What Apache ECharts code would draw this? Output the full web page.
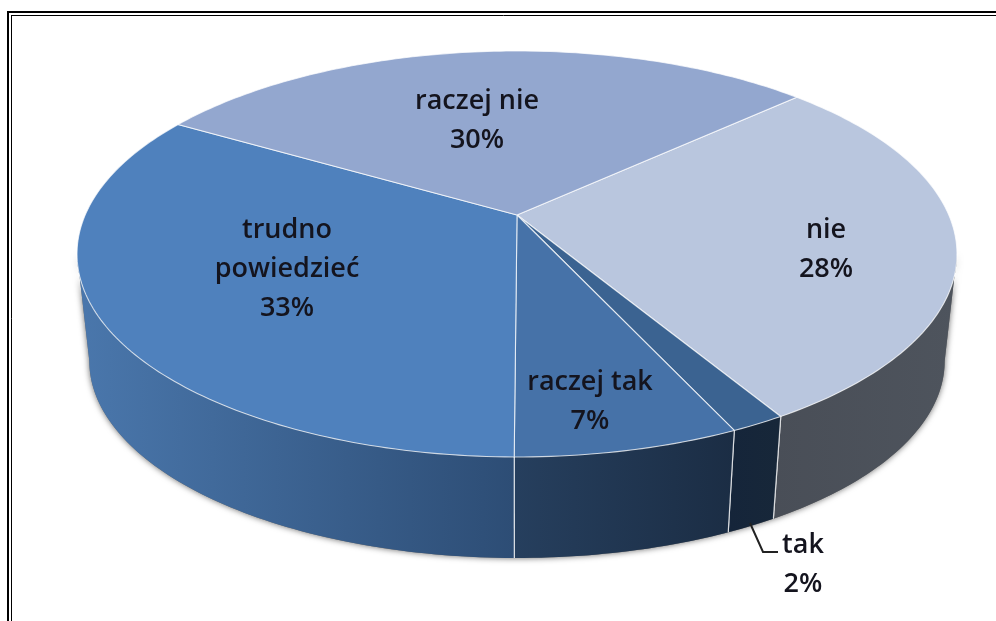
<!DOCTYPE html>
<html>
<head>
<meta charset="utf-8">
<style>html,body{margin:0;padding:0;background:#fff}#c{width:996px;height:621px}</style>
<script src="https://cdn.jsdelivr.net/npm/echarts@6/dist/echarts.min.js"></script>
</head>
<body>
<div id="c"></div>
<script>
// ---- data ----
const categories = ['nie', 'tak', 'raczej tak', 'trudno\npowiedzieć', 'raczej nie'];
const values = [28.4, 1.7, 6.9, 33.4, 29.6];
// ---- styles ----
const topColors = ['#B9C6DE', '#3B6391', '#4672A8', '#4F81BD', '#93A7CF'];
const wallColors = [
  ['#494E57', '#4E545D'],
  ['#15253A', '#172739'],
  ['#263F5E', '#1B2D44'],
  ['#4A77AC', '#2D4D75'],
  ['#5A6E94', '#5A6E94']
];
const labelAt = [[826, 250], [803, 565], [590, 402], [287, 269], [477, 121]];
const startAngle = 47.1;
// perspective model of the pie disc
const view = {
  x0: 517, k: 0.192,
  top: { y0: 215, A: 431.8, B: 195.5 },
  bottom: { y0: 323.3, A: 419.7, B: 189.6 }
};
// angles at which the wall meets the disc outline (left and right silhouette)
const wallFrom = Math.acos(-view.k) * 180 / Math.PI;
const wallTo = 360 - wallFrom;
const total = values.reduce((a, b) => a + b, 0);
function sliceAngles(i) {
  let s = 0;
  for (let j = 0; j < i; j++) s += values[j];
  const a0 = startAngle + s / total * 360;
  return [a0, a0 + values[i] / total * 360];
}
function project(deg, lvl) {
  const t = deg * Math.PI / 180, u = Math.sin(t), v = -Math.cos(t), w = 1 - view.k * v;
  return [view.x0 + lvl.A * u / w, lvl.y0 + lvl.B * v / w];
}
function arc(a0, a1, lvl) {
  const n = Math.max(2, Math.ceil(Math.abs(a1 - a0)));
  const pts = [];
  for (let i = 0; i <= n; i++) pts.push(project(a0 + (a1 - a0) * i / n, lvl));
  return pts;
}
const seam = 'rgba(255,255,255,0.72)';

function renderShadow() {
  return {
    type: 'polygon',
    shape: { points: arc(wallFrom, wallTo, view.top).concat(arc(wallTo, wallFrom, view.bottom)) },
    style: { fill: '#6b6b6b', shadowBlur: 6, shadowColor: 'rgba(0,0,0,0.6)' }, silent: true
  };
}
function renderWall(params) {
  const i = params.dataIndex, [s0, s1] = sliceAngles(i);
  const a0 = Math.max(s0, wallFrom), a1 = Math.min(s1, wallTo);
  if (a1 <= a0) return { type: 'group', children: [] };
  const c = wallColors[i];
  const children = [{
    type: 'polygon',
    shape: { points: arc(a0, a1, view.top).concat(arc(a1, a0, view.bottom)) },
    style: {
      fill: new echarts.graphic.LinearGradient(0, 0, 1, 0,
        [{ offset: 0, color: c[0] }, { offset: 1, color: c[1] }])
    }
  }];
  [s0, s1].forEach(a => {
    if (a <= wallFrom || a >= wallTo) return;
    const p = project(a, view.top), q = project(a, view.bottom);
    children.push({ type: 'line', shape: { x1: p[0], y1: p[1], x2: q[0], y2: q[1] },
      style: { stroke: seam, lineWidth: 1.2 }, silent: true });
  });
  return { type: 'group', children };
}
function renderTop(params) {
  const i = params.dataIndex, [a0, a1] = sliceAngles(i);
  return {
    type: 'polygon',
    shape: { points: [[view.x0, view.top.y0]].concat(arc(a0, a1, view.top)) },
    style: { fill: topColors[i], stroke: seam, lineWidth: 1.1 }
  };
}
function renderLabel(params, api) {
  const i = params.dataIndex;
  const pct = Math.round(api.value(0) / total * 100);
  return {
    type: 'text', x: labelAt[i][0], y: labelAt[i][1], silent: true,
    style: {
      text: categories[i] + '\n' + pct + '%',
      font: '600 27px "Open Sans", sans-serif',
      fill: '#14141E', align: 'center', verticalAlign: 'middle', lineHeight: 39
    }
  };
}
const seriesData = values.map(v => [v]);
const chart = echarts.init(document.getElementById('c'), null, { renderer: 'canvas' });
chart.setOption({
  animation: false,
  backgroundColor: '#fff',
  graphic: [
    { type: 'line', shape: { x1: 8, y1: 621, x2: 8, y2: 12 }, style: { stroke: '#000', lineWidth: 2 } , z: 10},
    { type: 'line', shape: { x1: 7, y1: 12, x2: 996, y2: 12 }, style: { stroke: '#000', lineWidth: 2 } , z: 10},
    { type: 'line', shape: { x1: 11.5, y1: 621, x2: 11.5, y2: 15.5 }, style: { stroke: '#000', lineWidth: 1 } , z: 10},
    { type: 'line', shape: { x1: 11, y1: 15.5, x2: 996, y2: 15.5 }, style: { stroke: '#000', lineWidth: 1 } , z: 10},
    { type: 'polyline', shape: { points: [[750, 523], [763, 552], [778, 552]] }, style: { stroke: '#222', lineWidth: 2, fill: 'none' }, z: 10 }
  ],
  series: [
    { type: 'custom', coordinateSystem: 'none', data: [[total]], renderItem: renderShadow, z: 1, silent: true },
    { type: 'custom', coordinateSystem: 'none', data: seriesData, renderItem: renderWall, z: 2, silent: true },
    { type: 'custom', coordinateSystem: 'none', data: seriesData, renderItem: renderTop, z: 3, silent: true },
    { type: 'custom', coordinateSystem: 'none', data: seriesData, renderItem: renderLabel, z: 4, silent: true }
  ]
});
</script>
</body>
</html>
